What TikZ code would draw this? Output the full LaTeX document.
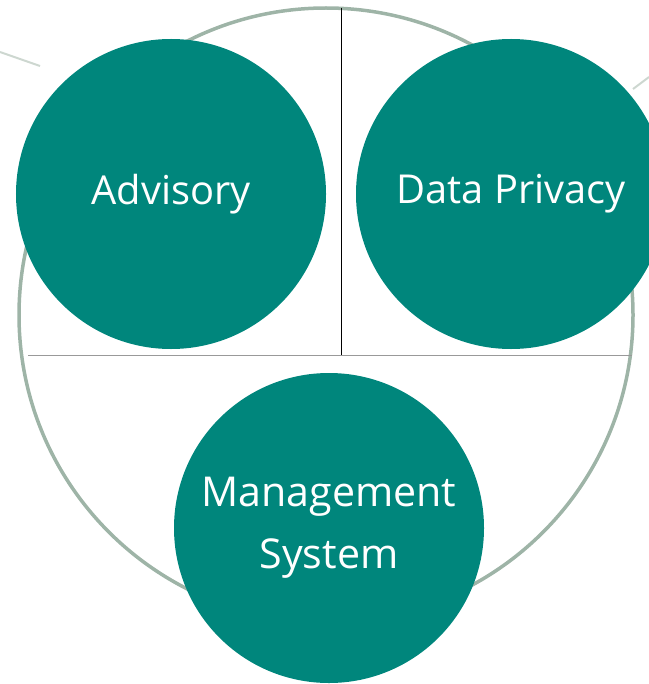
\documentclass[tikz,border=0pt]{standalone}
\usepackage{fontspec}
\setmainfont{Open Sans}
\definecolor{teal}{RGB}{0,134,124}
\definecolor{ringgrey}{RGB}{158,180,167}
\definecolor{faintgrey}{RGB}{205,215,208}
\begin{document}
\begin{tikzpicture}[x=1bp, y=-1bp,
        bubble/.style={circle, fill=teal, minimum size=310bp, inner sep=0pt,
            text=white, align=center, font=\fontsize{40}{62}\selectfont},
        ring/.style={draw=ringgrey, line width=3.5bp}]
        \useasboundingbox (0,0) rectangle (649,684);
        % outer ring and dividers
        \draw[ring] (326,315) circle[radius=307];
        \coordinate (top) at (341,8);
        \coordinate (mid) at (341,355);
        \coordinate (west) at (28,355);
        \coordinate (east) at (632,355);
        \draw[black, line width=1bp] (top) -- (mid);
        \draw[gray!80, line width=1bp] (west) -- (east);
        % faint strokes at the corners
        \draw[faintgrey, line width=2bp] (0,52) -- (40,66);
        \draw[faintgrey, line width=2bp] (633,89) -- (649,77);
        % the three areas
        \node[bubble] (advisory) at (171,194) {Advisory};
        \node[bubble] (privacy) at (511,194) {Data Privacy};
        \node[bubble, font=\fontsize{41.3}{62}\selectfont] (management) at (329,528) {Management\\System};
\end{tikzpicture}
\end{document}
